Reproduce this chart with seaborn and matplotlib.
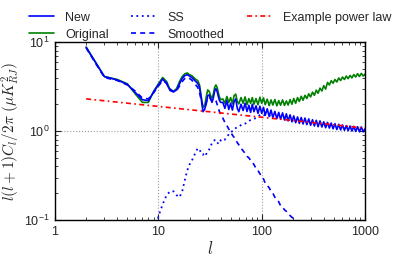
import matplotlib
matplotlib.use("Agg")
import matplotlib.pyplot as plt
import seaborn as sns
import pandas as pd
import numpy as np
from matplotlib.ticker import FixedLocator, FixedFormatter, LogLocator, NullFormatter

# ---------------- data ----------------
l_low = [2, 3, 4, 5, 6, 7, 8, 9, 10, 11, 12, 13, 14, 15, 16, 17, 18, 19, 20, 21,
         22, 23, 24, 25, 26, 27, 28, 29, 30, 31, 32, 33, 34, 35, 36, 37, 38, 39, 40]
l_high = [42, 44, 46, 48, 50, 52, 54, 56, 58, 60, 63, 66, 69, 72, 75, 78, 81, 84, 88, 92,
          96, 100, 104, 108, 113, 118, 123, 128, 134, 140, 146, 152, 159, 166, 173, 180,
          188, 196, 204, 213, 222, 231, 241, 251, 262, 273, 285, 297, 310, 323, 337, 351,
          366, 382, 398, 415, 433, 451, 470, 490, 511, 533, 556, 580, 605, 631, 658, 686,
          715, 746, 778, 811, 846, 882, 920, 960, 1000]

orig_low = [8.8, 4.1, 3.8, 3.4, 2.6, 2.1, 2.1, 2.8, 3.4, 4.0, 3.6, 2.9, 2.8, 3.0, 3.6,
            4.1, 4.4, 4.5, 4.3, 4.2, 4.0, 3.8, 3.7, 3.3, 2.4, 1.85, 1.9, 2.4, 2.9, 2.8,
            2.5, 2.35, 2.6, 3.1, 3.3, 3.1, 2.7, 2.4, 2.25]
orig_high = [2.30, 2.05, 2.45, 2.10, 2.38, 2.02, 2.50, 2.60, 2.15, 2.02, 2.38, 2.05, 2.42,
             1.98, 2.32, 2.05, 2.38, 2.00, 2.32, 1.97, 2.40, 2.05, 2.36, 1.98, 2.28, 1.93,
             2.24, 1.96, 2.26, 1.92, 2.20, 1.95, 2.24, 1.94, 2.18, 1.96, 2.26, 2.00, 2.32,
             2.05, 2.38, 2.15, 2.46, 2.22, 2.52, 2.32, 2.62, 2.42, 2.74, 2.52, 2.88, 2.66,
             3.04, 2.82, 3.24, 2.96, 3.52, 3.30, 3.68, 3.45, 3.80, 3.56, 3.95, 3.70, 4.05,
             3.80, 4.15, 3.88, 4.22, 3.96, 4.32, 4.05, 4.42, 4.10, 4.45, 4.15, 4.38]

new_low = [8.7, 4.1, 3.75, 3.35, 2.7, 2.25, 2.2, 2.75, 3.3, 3.85, 3.4, 2.85, 2.75, 2.9,
           3.4, 3.9, 4.2, 4.3, 4.15, 4.0, 3.8, 3.6, 3.45, 3.1, 2.3, 1.65, 1.75, 2.0, 2.5,
           2.55, 2.3, 2.1, 2.35, 2.8, 3.0, 2.8, 2.45, 2.2, 2.1]
new_high = [2.10, 1.80, 2.20, 1.75, 2.05, 1.72, 2.15, 2.30, 1.80, 1.65, 2.00, 1.70, 2.05,
            1.66, 1.95, 1.62, 2.00, 1.65, 1.92, 1.58, 1.90, 1.58, 1.85, 1.50, 1.78, 1.46,
            1.72, 1.42, 1.66, 1.38, 1.62, 1.36, 1.60, 1.33, 1.56, 1.30, 1.52, 1.27, 1.48,
            1.24, 1.44, 1.22, 1.42, 1.20, 1.40, 1.18, 1.37, 1.16, 1.34, 1.14, 1.32, 1.12,
            1.30, 1.11, 1.27, 1.09, 1.25, 1.08, 1.23, 1.06, 1.21, 1.04, 1.19, 1.03, 1.17,
            1.02, 1.15, 1.01, 1.14, 1.00, 1.13, 0.99, 1.12, 0.98, 1.11, 0.98, 1.06]

smooth_low = [8.6, 4.0, 3.7, 3.3, 2.8, 2.35, 2.3, 2.7, 3.2, 3.7, 3.5, 2.95, 2.8, 2.85,
              3.2, 3.6, 3.9, 4.0, 3.9, 3.75, 3.5, 3.3, 3.1, 2.7, 2.2, 1.85, 1.9, 2.1, 2.3,
              2.4, 2.3, 2.2, 2.25, 2.3, 2.2, 2.0, 1.8, 1.65, 1.55]
l_smooth_high = [42, 44, 46, 48, 50, 52, 54, 56, 58, 60, 63, 66, 69, 72, 75, 78, 81, 84,
                 88, 92, 96, 100, 104, 108, 113, 118, 123, 128, 134, 140, 146, 152, 159,
                 166, 173, 180, 188, 196, 204, 213, 222, 231, 241]
smooth_high = [1.4, 1.25, 1.15, 1.05, 0.98, 0.9, 0.85, 0.8, 0.74, 0.7, 0.64, 0.6, 0.56,
               0.52, 0.5, 0.47, 0.45, 0.42, 0.38, 0.36, 0.33, 0.31, 0.29, 0.26, 0.245,
               0.23, 0.21, 0.2, 0.18, 0.17, 0.16, 0.145, 0.14, 0.13, 0.125, 0.118, 0.112,
               0.107, 0.104, 0.1, 0.097, 0.093, 0.09]

l_ss = [9, 10, 11, 12, 13, 14, 15, 16, 17, 18, 19, 20, 21, 22, 23, 24, 25, 26, 27, 28,
        29, 30, 31, 32, 33, 34, 35, 36, 37, 38, 39, 40, 42, 44, 46, 48, 50, 53, 56, 60,
        65, 70, 75, 80, 88, 95, 100, 108, 118, 128]
ss = [0.06, 0.11, 0.15, 0.19, 0.21, 0.21, 0.19, 0.18, 0.21, 0.28, 0.36, 0.42, 0.46,
      0.52, 0.58, 0.64, 0.62, 0.56, 0.54, 0.58, 0.55, 0.58, 0.62, 0.68, 0.73, 0.77,
      0.79, 0.76, 0.72, 0.74, 0.80, 0.78, 0.82, 0.80, 0.86, 0.92, 0.98, 1.0, 1.08,
      1.12, 1.2, 1.22, 1.3, 1.35, 1.4, 1.5, 1.55, 1.5, 1.5, 1.45]

l_pow = [2, 1000]
pow_vals = [2.3, 1.08]

x_ticks = [1, 10, 100, 1000]
x_ticklabels = ["1", "10", "100", "1000"]

# ---------------- style ----------------
sns.set_style("white", {
    "xtick.direction": "in", "ytick.direction": "in",
    "xtick.top": True, "ytick.right": True,
    "xtick.bottom": True, "ytick.left": True,
    "axes.edgecolor": "black",
})
plt.rcParams["font.family"] = ["Liberation Sans", "DejaVu Sans"]
plt.rcParams["mathtext.fontset"] = "cm"
plt.rcParams["font.size"] = 9

fig = plt.figure(figsize=(3.99, 2.60), dpi=100)
ax = fig.add_axes([0.138, 0.154, 0.777, 0.684])
ax.set_xscale("log")
ax.set_yscale("log")

df_orig = pd.DataFrame({"l": l_low + l_high, "v": orig_low + orig_high})
df_new = pd.DataFrame({"l": l_low + l_high, "v": new_low + new_high})
df_smooth = pd.DataFrame({"l": l_low + l_smooth_high, "v": smooth_low + smooth_high})
df_ss = pd.DataFrame({"l": l_ss, "v": ss})
df_pow = pd.DataFrame({"l": l_pow, "v": pow_vals})

blue = (0, 0, 1)
green = (0, 0.5, 0)
red = (1, 0, 0)

sns.lineplot(data=df_orig, x="l", y="v", ax=ax, color=green, lw=1.2, estimator=None,
             label="Original")
sns.lineplot(data=df_new, x="l", y="v", ax=ax, color=blue, lw=1.2, estimator=None,
             label="New")
sns.lineplot(data=df_ss, x="l", y="v", ax=ax, color=blue, lw=1.3, estimator=None,
             linestyle=(0, (1, 2)), label="SS")
sns.lineplot(data=df_smooth, x="l", y="v", ax=ax, color=blue, lw=1.2, estimator=None,
             linestyle=(0, (3, 2.5)), label="Smoothed")
sns.lineplot(data=df_pow, x="l", y="v", ax=ax, color=red, lw=1.2, estimator=None,
             linestyle=(0, (3, 2, 1, 2)), label="Example power law")

ax.set_xlim(1, 1000)
ax.set_ylim(0.1, 10)
ax.xaxis.set_major_locator(FixedLocator(x_ticks))
ax.xaxis.set_major_formatter(FixedFormatter(x_ticklabels))
ax.xaxis.set_minor_locator(LogLocator(base=10, subs=np.arange(2, 10)))
ax.xaxis.set_minor_formatter(NullFormatter())
ax.yaxis.set_minor_locator(LogLocator(base=10, subs=np.arange(2, 10)))
ax.yaxis.set_minor_formatter(NullFormatter())
ax.tick_params(which="major", length=4, width=0.8, labelsize=9, pad=4)
ax.tick_params(which="minor", length=2, width=0.6)
ax.grid(True, which="major", linestyle=":", color="#999999", lw=0.8)
for s in ax.spines.values():
    s.set_linewidth(1.0)

ax.set_xlabel(r"$l$", fontsize=12, labelpad=2)
ax.set_ylabel(r"$l(l+1)C_l/2\pi\ (\mu K_{RJ}^2)$", fontsize=11, labelpad=1)

handles, labels = ax.get_legend_handles_labels()
order = ["New", "Original", "SS", "Smoothed", "Example power law"]
hmap = dict(zip(labels, handles))
ax.legend([hmap[k] for k in order], order, ncol=3, loc="lower center",
          bbox_to_anchor=(0.5, 0.98), frameon=False, fontsize=9,
          handlelength=2.0, handletextpad=0.9, columnspacing=1.8,
          borderaxespad=0.0, labelspacing=0.4)

fig.savefig("out.png", dpi=100)
